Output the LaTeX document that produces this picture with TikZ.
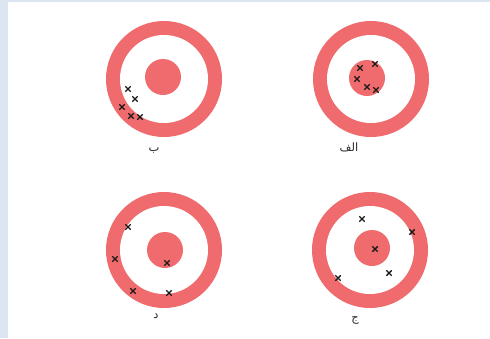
\documentclass[tikz,border=0pt]{standalone}
\usepackage{fontspec}
\newfontfamily\arabicfont[Script=Arabic]{DejaVu Sans}
\TeXXeTstate=1
\definecolor{ringred}{HTML}{F06B6D}
\definecolor{framebg}{HTML}{DCE6F2}
\definecolor{labelgray}{HTML}{2A2A2A}
\tikzset{
  ringpic/.pic={
    \fill[ringred] (0,0) circle[radius=58];
    \fill[white] (0,0) circle[radius=44];
  },
  bullpic/.pic={\fill[ringred] (0,0) circle[radius=18];},
  xmk/.pic={\draw[line width=1.4pt,black!90] (-2.7,-2.7) -- (2.7,2.7) (-2.7,2.7) -- (2.7,-2.7);},
  tlabel/.style={font=\arabicfont\fontsize{11.5}{13}\selectfont, text=labelgray, inner sep=0pt}
}
\begin{document}
\begin{tikzpicture}[x=1pt,y=-1pt]
\fill[framebg] (0,0) rectangle (490,338);
\fill[white] (8,2) rectangle (490,338);
\useasboundingbox (0,0) rectangle (490,338);
% target alef (top right)
\pic at (371,79) {ringpic};
\pic at (367,78) {bullpic};
\foreach \p in {(360,68),(375,64),(357,79),(367,87),(376,90)} \pic at \p {xmk};
\node[tlabel] (la) at (349,147) {\beginR الف\endR};
% target be (top left)
\pic at (164,79) {ringpic};
\pic at (163,77) {bullpic};
\foreach \p in {(128,89),(135,99),(122,107),(131,116),(140,117)} \pic at \p {xmk};
\node[tlabel] (lb) at (154,151) {\beginR ب\endR};
% target dal (bottom left)
\pic at (164,250) {ringpic};
\pic at (165,250) {bullpic};
\foreach \p in {(128,227),(115,259),(133,291),(169,293),(167,263)} \pic at \p {xmk};
\node[tlabel] (ld) at (156,316) {\beginR د\endR};
% target jim (bottom right)
\pic at (370,250) {ringpic};
\pic at (372,248) {bullpic};
\foreach \p in {(362,219),(412,232),(375,249),(389,273),(338,278)} \pic at \p {xmk};
\node[tlabel] (lc) at (355,320) {\beginR ج\endR};
\end{tikzpicture}
\end{document}
